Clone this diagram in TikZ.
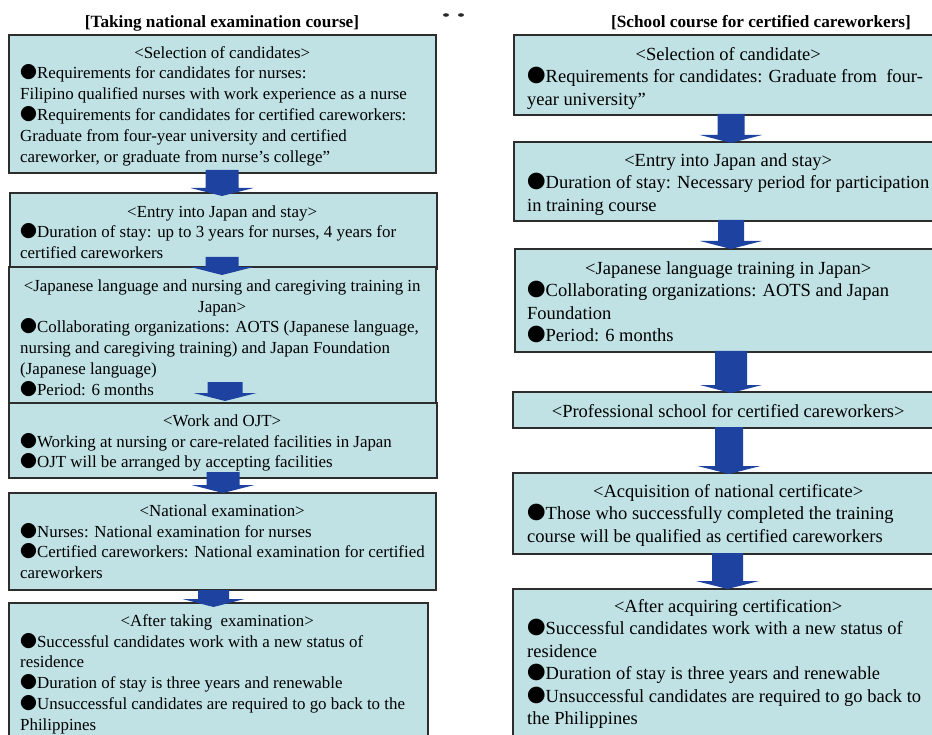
\documentclass[tikz,border=0pt]{standalone}
\usepackage{fontspec}
\setmainfont{Liberation Serif}
\newfontfamily\cjk{Noto Sans CJK JP}
\usetikzlibrary{calc}
\definecolor{boxfill}{RGB}{192,226,229}
\definecolor{boxline}{RGB}{45,45,45}
\definecolor{arrowblue}{RGB}{30,66,160}
\newcommand\bul{{\cjk ●}}
\newcommand\hdL[2][404pt]{\makebox[#1][c]{\rule{0pt}{16pt}#2}}
\newcommand\hdR[2][402pt]{\makebox[#1][c]{\rule{0pt}{16pt}#2}}
% #1 source, #2 target, #3 centre x, #4 shaft top offset, #5 tip offset, #6 shaft half width, #7 wing half width
\newcommand\flowarrow[7]{%
  \coordinate (#1-#2-t) at (#3,0 |- #1.south);
  \coordinate (#1-#2-b) at (#3,0 |- #2.north);
  \fill[arrowblue] ($(#1-#2-t)+(-#6,#4)$) -- ($(#1-#2-b)+(-#6,#5-8)$) -- ($(#1-#2-b)+(-#7,#5-8)$)
    -- ($(#1-#2-b)+(0,#5)$) -- ($(#1-#2-b)+(#7,#5-8)$) -- ($(#1-#2-b)+(#6,#5-8)$)
    -- ($(#1-#2-t)+(#6,#4)$) -- cycle;
}
\tikzset{
  box/.style={draw=boxline, line width=1.2pt, fill=boxfill, rectangle, inner sep=0pt, outer sep=0pt, anchor=north west},
  ltxt/.style={font=\fontsize{16.9}{20.8}\selectfont, align=left, inner sep=0pt, anchor=north west},
  rtxt/.style={font=\fontsize{18.5}{22.5}\selectfont, align=left, inner sep=0pt, anchor=north west},
  ttl/.style={font=\fontsize{17.2}{20}\selectfont\bfseries, inner sep=0pt, anchor=base}
}
\begin{document}
\begin{tikzpicture}[x=1pt,y=-1pt]
\useasboundingbox (0,0) rectangle (932,735);
% titles
\node[ttl] (tl) at (222,28) {[Taking national examination course]};
\node[ttl] (tr) at (761,28) {[School course for certified careworkers]};
\fill[black!85] (446,15) ellipse (3 and 1.8);
\fill[black!85] (461,15) ellipse (3 and 1.8);
% left boxes
\node[box, minimum width=427pt, minimum height=138pt] (L1) at (9,35) {};
\node[box, minimum width=427pt, minimum height=76pt] (L2) at (10,193) {};
\node[box, minimum width=427pt, minimum height=136pt] (L3) at (9,267) {};
\node[box, minimum width=428pt, minimum height=75pt] (L4) at (9,403) {};
\node[box, minimum width=427pt, minimum height=97pt] (L5) at (9,493) {};
\node[box, minimum width=419pt, minimum height=150pt] (L6) at (9,603) {};
% right boxes
\node[box, minimum width=440pt, minimum height=80pt] (R1) at (514,35) {};
\node[box, minimum width=440pt, minimum height=79pt] (R2) at (514,142) {};
\node[box, minimum width=440pt, minimum height=103pt] (R3) at (515,249) {};
\node[box, minimum width=440pt, minimum height=36pt] (R4) at (513,392) {};
\node[box, minimum width=440pt, minimum height=81pt] (R5) at (513,473) {};
\node[box, minimum width=440pt, minimum height=160pt] (R6) at (513,589) {};
% arrows
\flowarrow{L1}{L2}{222}{-3}{3}{16.5}{31.5}
\flowarrow{L2}{L3}{222}{-12}{8}{16.5}{31.5}
\flowarrow{L3}{L4}{225}{-21}{-2}{17.5}{31.5}
\flowarrow{L4}{L5}{223}{-6}{0}{16.5}{31.5}
\flowarrow{L5}{L6}{213.5}{0}{4}{15.5}{31}
\flowarrow{R1}{R2}{731}{-1}{1}{13.5}{31}
\flowarrow{R2}{R3}{731}{-1}{0}{13}{31}
\flowarrow{R3}{R4}{731}{-1}{1}{16}{31}
\flowarrow{R4}{R5}{729}{-1}{1}{14}{31.5}
\flowarrow{R5}{R6}{727.5}{-1}{0}{15.5}{31.5}
% left texts
\node[ltxt] (L1t) at (20,42) {\hdL{<Selection of candidates>}\\
\bul Requirements for candidates for nurses:\\
Filipino qualified nurses with work experience as a nurse\\
\bul Requirements for candidates for certified careworkers:\\
Graduate from four-year university and certified\\
careworker, or graduate from nurse’s college”};
\node[ltxt] (L2t) at (20,201) {\hdL{<Entry into Japan and stay>}\\
\bul Duration of stay: up to 3 years for nurses, 4 years for\\
certified careworkers};
\node[ltxt] (L3t) at (20,275) {\hdL{<Japanese language and nursing and caregiving training in}\\
\hdL{Japan>}\\
\bul Collaborating organizations: AOTS (Japanese language,\\
nursing and caregiving training) and Japan Foundation\\
(Japanese language)\\
\bul Period: 6 months};
\node[ltxt] (L4t) at (20,410) {\hdL{<Work and OJT>}\\
\bul Working at nursing or care-related facilities in Japan\\
\bul OJT will be arranged by accepting facilities};
\node[ltxt] (L5t) at (20,500) {\hdL{<National examination>}\\
\bul Nurses: National examination for nurses\\
\bul Certified careworkers: National examination for certified\\
careworkers};
\node[ltxt] (L6t) at (20,610) {\hdL[394pt]{<After taking\ \ examination>}\\
\bul Successful candidates work with a new status of\\
residence\\
\bul Duration of stay is three years and renewable\\
\bul Unsuccessful candidates are required to go back to the\\
Philippines};
% right texts
\node[rtxt] (R1t) at (527,44) {\hdR{<Selection of candidate>}\\
\bul Requirements for candidates: Graduate from\ \ four-\\
year university”};
\node[rtxt] (R2t) at (527,150) {\hdR{<Entry into Japan and stay>}\\
\bul Duration of stay: Necessary period for participation\\
in training course};
\node[rtxt] (R3t) at (527,258) {\hdR{<Japanese language training in Japan>}\\
\bul Collaborating organizations: AOTS and Japan\\
Foundation\\
\bul Period: 6 months};
\node[rtxt] (R4t) at (527,401) {\hdR{<Professional school for certified careworkers>}};
\node[rtxt] (R5t) at (527,481) {\hdR{<Acquisition of national certificate>}\\
\bul Those who successfully completed the training\\
course will be qualified as certified careworkers};
\node[rtxt] (R6t) at (527,596) {\hdR{<After acquiring certification>}\\
\bul Successful candidates work with a new status of\\
residence\\
\bul Duration of stay is three years and renewable\\
\bul Unsuccessful candidates are required to go back to\\
the Philippines};
\end{tikzpicture}
\end{document}
